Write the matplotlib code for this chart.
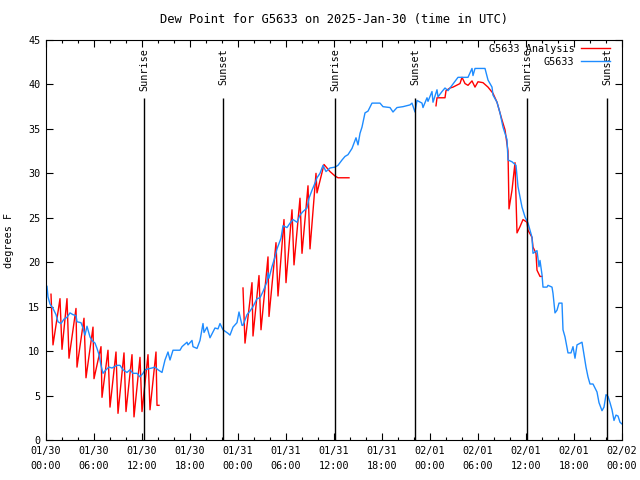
import numpy as np
import matplotlib
matplotlib.use("Agg")
import matplotlib.pyplot as plt
from matplotlib.ticker import MultipleLocator

# hours since 2025-01-30 00:00 UTC
obs_hours = [0.0, 0.125, 0.25, 0.5, 0.875, 1.25, 1.5, 1.875, 2.25, 2.625, 3.0, 3.375, 3.75, 3.875,
             4.375, 4.625, 4.875, 5.125, 5.5, 5.75, 6.125, 6.375, 6.625, 6.875, 7.125, 7.5, 7.875,
             8.25, 8.875, 9.25, 9.625, 10.125, 10.5, 10.875, 11.375, 11.75, 12.125, 12.375, 12.75,
             13.25, 13.625, 14.0, 14.5, 14.875, 15.25, 15.5, 15.875, 16.75, 17.0, 17.625, 17.75,
             18.25, 18.375, 18.875, 19.25, 19.625, 19.75, 20.125, 20.5, 21.125, 21.5, 21.75, 22.125,
             22.75, 23.0, 23.375, 23.875, 24.125, 24.5, 24.625, 24.875, 25.125, 25.5, 25.875, 26.375,
             26.75, 27.125, 27.625, 27.75, 27.875, 28.25, 28.625, 28.875, 29.375, 29.625, 30.125,
             30.5, 30.875, 31.375, 31.75, 32.125, 32.625, 32.875, 33.25, 33.625, 33.875, 34.25,
             34.625, 35.0, 35.5, 36.125, 36.5, 37.0, 37.375, 37.75, 38.25, 38.625, 38.75, 39.0,
             39.25, 39.5, 39.875, 40.25, 40.75, 41.75, 42.125, 43.0, 43.375, 43.875, 44.625, 45.5,
             45.75, 46.125, 46.375, 47.0, 47.125, 47.625, 47.75, 48.25, 48.375, 48.875, 49.0, 49.5,
             49.875, 50.25, 50.75, 51.5, 52.75, 53.25, 53.375, 53.625, 54.875, 55.25, 55.75, 55.875,
             56.375, 56.75, 57.125, 57.625, 57.75, 58.25, 58.75, 59.0, 59.5, 59.875, 60.25, 60.75,
             60.875, 61.375, 61.625, 61.75, 62.0, 62.125, 62.625, 62.75, 63.25, 63.375, 63.625,
             63.875, 64.125, 64.5, 64.625, 64.875, 65.25, 65.625, 65.875, 66.125, 66.375, 67.0,
             67.125, 67.5, 67.75, 68.0, 68.375, 68.875, 69.125, 69.5, 69.75, 70.0, 70.25, 70.5,
             70.75, 71.0, 71.25, 71.5, 71.75, 72.0]
obs_dewpt = [17.4, 17.3, 16.1, 15.3, 14.8, 14.1, 13.3, 13.1, 13.6, 13.8, 14.3, 14.1, 14.0, 13.3,
             13.2, 12.6, 11.8, 12.8, 11.6, 11.2, 10.9, 10.3, 9.6, 8.4, 7.5, 7.9, 8.2,
             8.1, 8.4, 8.4, 7.9, 7.6, 7.9, 7.5, 7.5, 7.1, 7.5, 7.9, 8.0,
             8.1, 8.2, 7.9, 7.6, 9.0, 9.9, 9.0, 10.1, 10.1, 10.5, 11.0, 10.7,
             11.2, 10.5, 10.3, 11.2, 13.1, 12.1, 12.7, 11.5, 12.6, 12.5, 13.1, 12.4,
             12.0, 11.8, 12.7, 13.2, 14.4, 12.9, 12.9, 13.5, 14.1, 14.5, 15.0, 15.9,
             16.0, 16.7, 17.8, 18.8, 18.2, 19.5, 20.6, 21.5, 22.7, 24.1, 23.9,
             24.4, 24.8, 24.5, 25.3, 25.7, 26.1, 27.2, 28.1, 28.9, 29.5, 30.0,
             30.9, 30.2, 30.6, 30.7, 30.9, 31.5, 31.9, 32.1, 32.8, 33.7, 34.0, 33.2,
             34.5, 35.2, 36.8, 37.0, 37.9, 37.9, 37.5, 37.4, 36.9, 37.4, 37.5, 37.7,
             37.9, 36.9, 38.2, 37.9, 37.4, 38.5, 38.1, 39.2, 38.0, 39.4, 38.6, 39.2,
             39.6, 39.3, 39.9, 40.8, 40.8, 41.8, 41.0, 41.8, 41.8, 40.5, 39.7, 38.8,
             38.0, 36.8, 35.2, 33.8, 31.5, 31.3, 30.9, 28.5, 26.2, 25.1, 24.4, 22.8,
             21.0, 21.3, 19.5, 20.2, 18.6, 17.2, 17.2, 17.4, 17.2, 16.5, 14.3,
             14.6, 15.4, 15.4, 12.4, 11.6, 9.8, 9.8, 10.5, 9.2, 10.7, 11.0,
             10.3, 8.2, 7.1, 6.3, 6.3, 5.4, 4.2, 3.3, 3.7, 5.1, 4.9, 4.2,
             3.4, 2.2, 2.8, 2.7, 2.0, 1.8]

# analysis, nan = gap
ana_hours = [0.625, 0.875, 1.75, 2.0, 2.625, 2.875, 3.75, 3.875, 4.75, 5.0, 5.875, 6.0, 6.875, 7.0,
             7.75, 8.0, 8.75, 9.0, 9.75, 10.0, 10.75, 11.0, 11.75, 12.0, 12.75, 13.0, 13.75, 13.875,
             14.125, 14.2,
             24.625, 24.875, 25.75, 25.875, 26.625, 26.875, 27.75, 27.875, 28.75, 29.0, 29.75, 30.0,
             30.75, 31.0, 31.75, 32.0, 32.75, 33.0, 33.75, 33.875, 34.75, 35.5, 36.125, 36.5, 37.875,
             38.0,
             48.75, 48.875, 49.875, 50.0, 50.5, 50.875, 51.75, 52.0, 52.375, 52.75, 53.25, 53.625,
             54.0, 54.625, 55.25, 55.875, 56.375, 57.0, 57.375, 57.75, 57.875, 58.25, 58.625, 58.875,
             59.25, 59.625, 60.125, 60.25, 60.75, 60.875, 61.25, 61.375, 61.75, 62.0]
ana_dewpt = [16.4, 10.7, 15.9, 10.2, 15.9, 9.2, 14.8, 8.2, 13.7, 7.0, 12.7, 6.9, 10.5, 4.8,
             10.1, 3.7, 9.9, 3.0, 9.8, 3.2, 9.6, 2.6, 9.3, 3.2, 9.6, 3.4, 9.9, 3.9,
             3.9, np.nan,
             17.1, 10.9, 17.7, 11.7, 18.5, 12.4, 20.6, 13.9, 22.2, 16.2, 24.8, 17.7,
             25.9, 19.7, 27.2, 21.0, 28.6, 21.5, 30.0, 27.8, 31.0, 30.2, 29.7, 29.5, 29.5,
             np.nan,
             37.6, 38.5, 38.5, 39.3, 39.6, 39.7, 40.1, 40.8, 40.1, 39.9, 40.4, 39.7,
             40.3, 40.2, 39.7, 39.0, 38.0, 36.0, 34.9, 32.5, 26.0, 28.1, 31.2, 23.3,
             24.0, 24.8, 24.5, 23.6, 22.8, 21.7, 21.0, 19.1, 18.4, 18.4]

sun_hours = [12.25, 22.1, 36.1, 46.1, 60.1, 70.1]
sun_names = ["Sunrise", "Sunset", "Sunrise", "Sunset", "Sunrise", "Sunset"]

tick_hours = list(range(0, 73, 6))
tick_labels = ["01/30\n00:00", "01/30\n06:00", "01/30\n12:00", "01/30\n18:00",
               "01/31\n00:00", "01/31\n06:00", "01/31\n12:00", "01/31\n18:00",
               "02/01\n00:00", "02/01\n06:00", "02/01\n12:00", "02/01\n18:00",
               "02/02\n00:00"]

plt.rcParams["font.family"] = "DejaVu Sans Mono"
plt.rcParams["font.size"] = 7.3

fig = plt.figure(figsize=(6.4, 4.8), dpi=100)
ax = fig.add_axes([46 / 640, 40 / 480, 576 / 640, 400 / 480])

ax.plot(ana_hours, ana_dewpt, color="#ff0000", lw=1.0, label="G5633 Analysis")
ax.plot(obs_hours, obs_dewpt, color="#1e8cff", lw=1.0, label="G5633")

for h, name in zip(sun_hours, sun_names):
    ax.vlines(h, 0, 38.5, color="black", lw=1.0)
    ax.text(h + 0.1, 44.1, name, rotation=90, ha="center", va="top")

ax.set_xlim(0, 72)
ax.set_ylim(0, 45)
ax.set_xticks(tick_hours)
ax.set_xticklabels(tick_labels, linespacing=1.65)
ax.xaxis.set_minor_locator(MultipleLocator(2))
ax.set_yticks(range(0, 46, 5))
ax.tick_params(which="both", direction="in", top=True, right=True, width=0.8)
ax.tick_params(which="major", length=5, pad=4)
ax.tick_params(which="minor", length=2.5)
for s in ax.spines.values():
    s.set_linewidth(0.8)

ax.set_ylabel("degrees F", labelpad=10)
ax.set_title("Dew Point for G5633 on 2025-Jan-30 (time in UTC)", pad=12)

ax.legend(loc="upper right", bbox_to_anchor=(0.979, 0.99), frameon=False,
          markerfirst=False, borderaxespad=0, borderpad=0, handlelength=2.9,
          handletextpad=0.6, labelspacing=0.3)

fig.savefig("out.png", dpi=100)
